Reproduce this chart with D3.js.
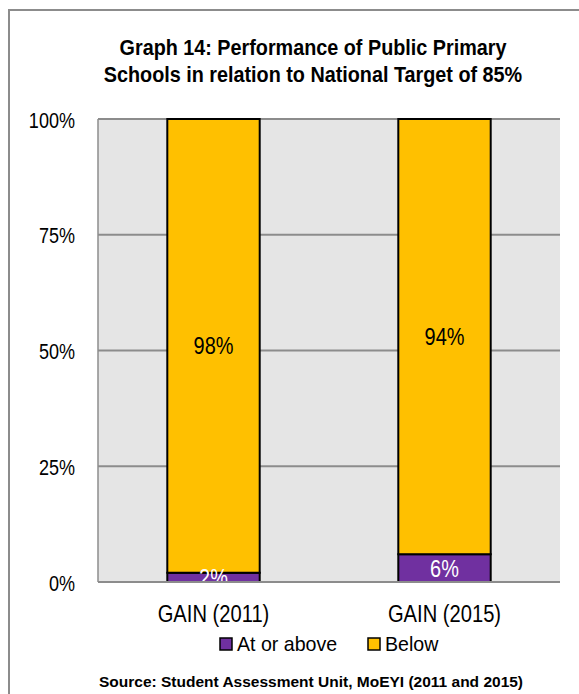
<!DOCTYPE html>
<html><head><meta charset="utf-8">
<script src="https://cdn.jsdelivr.net/npm/d3@7"></script>
<style>
html,body{margin:0;padding:0;background:#fff;}
svg{display:block;}
text{font-family:"Liberation Sans Narrow","Liberation Sans",Arial,sans-serif;fill:#000;}
</style></head>
<body>
<script>
const categories = ["GAIN (2011)", "GAIN (2015)"];
const seriesNames = ["At or above", "Below"];
const atOrAbove = [0.02, 0.06];
const below = [0.98, 0.94];
const yTicks = [0, 0.25, 0.5, 0.75, 1];
const colors = ["#7030A0", "#FFC000"];
const labelColors = ["#ffffff", "#000000"];
const titleLines = ["Graph 14: Performance of Public Primary", "Schools in relation to National Target of 85%"];
const sourceText = "Source:  Student Assessment Unit, MoEYI (2011 and 2015)";

const W = 579, H = 694;
const svg = d3.select("body").append("svg").attr("width", W).attr("height", H);

// helper: place condensed text
function at(x, y, sx) { return `translate(${x},${y}) scale(${sx},1)`; }

// outer frame
svg.append("rect").attr("x", 9).attr("y", 10).attr("width", W).attr("height", H)
  .attr("fill", "none").attr("stroke", "#8c8c8c").attr("stroke-width", 2);

// title
svg.append("g").selectAll("text").data(titleLines).join("text")
  .attr("transform", (d, i) => at(313, 55 + i * 27, 0.9))
  .attr("text-anchor", "middle").attr("font-weight", "bold").attr("font-size", 22)
  .text(d => d);

const plot = {left: 98, right: 560, top: 119, bottom: 582};
const x = d3.scaleBand().domain(categories).range([plot.left, plot.right]).paddingInner(0.6).paddingOuter(0.3);
const y = d3.scaleLinear().domain([0, 1]).range([plot.bottom, plot.top]);

svg.append("rect").attr("x", plot.left).attr("y", plot.top)
  .attr("width", plot.right - plot.left).attr("height", plot.bottom - plot.top).attr("fill", "#e5e5e5");

svg.append("clipPath").attr("id", "clip").append("rect")
  .attr("x", plot.left).attr("y", plot.top - 2).attr("width", plot.right - plot.left).attr("height", plot.bottom - plot.top + 2);

// gridlines
svg.append("g").selectAll("line").data(yTicks).join("line")
  .attr("x1", plot.left).attr("x2", plot.right)
  .attr("y1", d => y(d)).attr("y2", d => y(d))
  .attr("stroke", "#8c8c8c").attr("stroke-width", 2);
svg.append("line").attr("x1", plot.left).attr("x2", plot.left).attr("y1", plot.top).attr("y2", plot.bottom)
  .attr("stroke", "#8c8c8c").attr("stroke-width", 1.5);

// y axis labels (use the axis for tick positions, then condense text)
const yAxis = d3.axisLeft(y).tickValues(yTicks).tickFormat(d3.format(".0%")).tickSize(0).tickPadding(0);
const ya = svg.append("g").attr("transform", `translate(${plot.left},0)`).call(yAxis);
ya.select(".domain").remove();
ya.selectAll(".tick text")
  .attr("x", null).attr("dy", null)
  .attr("transform", at(-23, 8, 0.82))
  .attr("font-size", 22).attr("font-family", null).attr("fill", "#000");

// stacked data
const rows = categories.map((c, i) => ({cat: c, "At or above": atOrAbove[i], "Below": below[i]}));
const stacked = d3.stack().keys(seriesNames)(rows);

const bars = svg.append("g");
stacked.forEach((s, si) => {
  bars.append("g").selectAll("rect").data(s).join("rect")
    .attr("x", d => x(d.data.cat)).attr("width", x.bandwidth())
    .attr("y", d => y(d[1])).attr("height", d => y(d[0]) - y(d[1]))
    .attr("fill", colors[si]).attr("stroke", "#000").attr("stroke-width", 2);
});
const labels = svg.append("g").attr("clip-path", "url(#clip)");
stacked.forEach((s, si) => {
  labels.append("g").selectAll("text").data(s).join("text")
    .attr("transform", d => at(x(d.data.cat) + x.bandwidth() / 2, y((d[0] + d[1]) / 2) + 8.5, 0.83))
    .attr("text-anchor", "middle").attr("font-size", 24)
    .style("fill", labelColors[si])
    .text(d => d3.format(".0%")(d[1] - d[0]));
});

// x axis
svg.append("line").attr("x1", plot.left).attr("x2", plot.right).attr("y1", plot.bottom).attr("y2", plot.bottom)
  .attr("stroke", "#8c8c8c").attr("stroke-width", 2);
svg.append("g").selectAll("text").data(categories).join("text")
  .attr("transform", d => at(x(d) + x.bandwidth() / 2, 622, 0.84))
  .attr("text-anchor", "middle").attr("font-size", 24).text(d => d);

// legend
const legendX = [220, 368];
const lg = svg.append("g").selectAll("g").data(seriesNames).join("g")
  .attr("transform", (d, i) => `translate(${legendX[i]},638)`);
lg.append("rect").attr("width", 12).attr("height", 12)
  .attr("fill", (d, i) => colors[i]).attr("stroke", "#000").attr("stroke-width", 1.5);
lg.append("text").attr("transform", at(17, 13, 0.98)).attr("font-size", 20).text(d => d);

// source
svg.append("text").attr("x", 311).attr("y", 687).attr("text-anchor", "middle")
  .attr("font-weight", "bold").attr("font-size", 15.5).text(sourceText);
</script>
</body></html>
